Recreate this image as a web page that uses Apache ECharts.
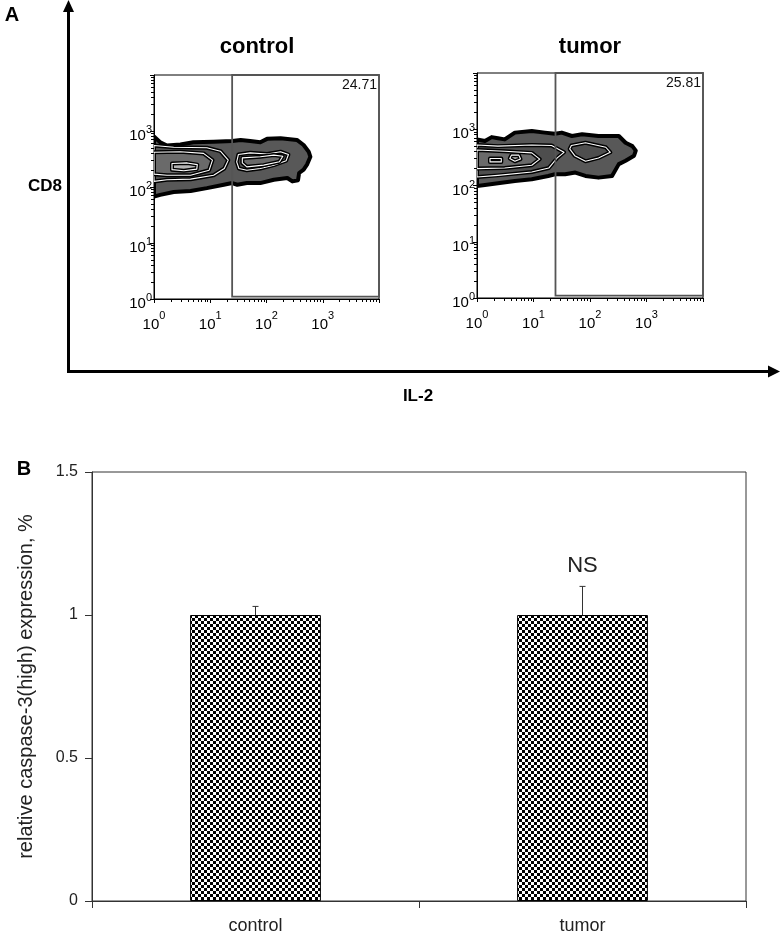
<!DOCTYPE html>
<html><head><meta charset="utf-8">
<script src="https://cdn.jsdelivr.net/npm/echarts@6/dist/echarts.min.js"></script>
<style>html,body{margin:0;padding:0;background:#fff}#c{width:780px;height:935px}</style>
</head><body><div id="c"></div>
<script>
const F = '"Liberation Sans", Arial, Helvetica, sans-serif';

// ---------- Panel A: contour outlines, [log10 IL-2, log10 CD8] ----------
const controlContours = [
  {lv:1, pts:[[0,2.90],[0.11,2.80],[0.23,2.74],[0.47,2.76],[0.70,2.80],[1.06,2.81],[1.39,2.82],[1.54,2.84],[1.71,2.82],[1.89,2.80],[2.01,2.86],[2.25,2.87],[2.54,2.84],[2.66,2.75],[2.75,2.63],[2.78,2.54],[2.72,2.40],[2.66,2.31],[2.58,2.25],[2.56,2.12],[2.46,2.10],[2.37,2.16],[2.13,2.13],[1.89,2.07],[1.65,2.07],[1.48,2.04],[1.39,2.07],[1.24,2.04],[0.94,1.98],[0.65,1.93],[0.35,1.91],[0.11,1.86],[0,1.83]]},
  {lv:2, pts:[[0,2.74],[0.35,2.71],[0.94,2.70],[1.18,2.64],[1.32,2.48],[1.25,2.33],[1.06,2.21],[0.65,2.14],[0.23,2.13],[0,2.10]]},
  {lv:2, pts:[[1.50,2.58],[1.71,2.61],[2.01,2.59],[2.25,2.63],[2.39,2.58],[2.35,2.47],[2.13,2.39],[1.89,2.33],[1.65,2.30],[1.51,2.33],[1.47,2.45]]},
  {lv:3, pts:[[0,2.62],[0.47,2.63],[0.88,2.60],[1.04,2.48],[0.98,2.30],[0.65,2.21],[0.23,2.21],[0,2.23]]},
  {lv:3, pts:[[1.57,2.52],[1.89,2.54],[2.13,2.57],[2.29,2.55],[2.23,2.45],[1.95,2.39],[1.65,2.36],[1.57,2.43]]},
  {lv:4, pts:[[0.32,2.42],[0.59,2.43],[0.77,2.40],[0.76,2.32],[0.53,2.29],[0.32,2.31]]}
];
const tumorContours = [
  {lv:1, pts:[[0,2.82],[0.14,2.79],[0.26,2.86],[0.37,2.84],[0.49,2.82],[0.67,2.94],[0.97,2.97],[1.20,2.94],[1.38,2.92],[1.50,2.94],[1.68,2.88],[1.86,2.91],[2.15,2.88],[2.51,2.88],[2.63,2.76],[2.75,2.70],[2.81,2.62],[2.78,2.53],[2.63,2.44],[2.51,2.38],[2.39,2.17],[2.15,2.14],[1.92,2.17],[1.74,2.23],[1.56,2.20],[1.38,2.20],[1.26,2.17],[0.97,2.11],[0.67,2.08],[0.37,2.04],[0.14,2.01],[0,1.99]]},
  {lv:2, pts:[[0,2.72],[0.37,2.70],[0.97,2.72],[1.32,2.71],[1.54,2.59],[1.42,2.49],[1.27,2.31],[0.97,2.24],[0.37,2.18],[0,2.15]]},
  {lv:2, pts:[[1.67,2.71],[1.92,2.76],[2.28,2.68],[2.36,2.59],[2.15,2.49],[1.92,2.43],[1.73,2.53],[1.64,2.65]]},
  {lv:3, pts:[[0,2.63],[0.49,2.61],[0.97,2.58],[1.11,2.47],[0.97,2.36],[0.49,2.31],[0,2.30]]},
  {lv:4, pts:[[0.61,2.54],[0.74,2.54],[0.77,2.47],[0.67,2.43],[0.58,2.48]]},
  {lv:4, pts:[[0.23,2.48],[0.43,2.48],[0.43,2.42],[0.23,2.42]]}
];
const panelTitles = ['control', 'tumor'];
const gateMinIL2 = [24.5, 24.5];
const gateMinCD8 = [1.1, 1.1];
const gatePercents = ['24.71', '25.81'];
const facsMin = 1, facsMax = 10000;

// ---------- Panel B ----------
const categories = ['control', 'tumor'];
const means = [1.0, 1.0];
const errors = [0.03, 0.10];
const marks = ['', 'NS'];
const yTicksB = {min: 0, max: 1.5, interval: 0.5};

// ---------- styles ----------
const levelFill = {1:'#585858', 2:'#4e4e4e', 3:'#6a6a6a', 4:'#b4b4b4'};

function contourRender(contours) {
  return function (params, api) {
    const c = contours[params.dataIndex];
    const pts = c.pts.map(p => api.coord([Math.pow(10, p[0]), Math.pow(10, p[1])]));
    const ch = [{type:'polygon', shape:{points:pts}, style:{fill:levelFill[c.lv], stroke:'#000', lineWidth:4, lineJoin:'round'}}];
    if (c.lv > 1) ch.push({type:'polygon', shape:{points:pts}, style:{fill:null, stroke:'#fff', lineWidth:1.1, lineJoin:'round'}});
    return {type:'group', children: ch};
  };
}
function gateRender(i) {
  return function (params, api) {
    const a = api.coord([gateMinIL2[i], gateMinCD8[i]]);
    const b = api.coord([facsMax, facsMax]);
    return {type:'group', children:[
      {type:'rect', shape:{x:a[0], y:b[1], width:b[0]-a[0], height:a[1]-b[1]}, style:{fill:null, stroke:'#555', lineWidth:1.8}},
      {type:'text', x:b[0]-2, y:b[1]+3, style:{text:gatePercents[i], fill:'#111', font:'14px ' + F, align:'right', verticalAlign:'top'}}
    ]};
  };
}
function supFmt(v) {
  const e = Math.round(Math.log10(v));
  return e >= 4 ? '' : '{p| }{b|10}{s|' + e + '}';
}
function facsRich(lineH) {
  return {p:{fontSize:1, lineHeight:lineH, width:0},
          b:{fontSize:15, fontFamily:F, color:'#000', lineHeight:16, verticalAlign:'bottom'},
          s:{fontSize:11, fontFamily:F, color:'#000', lineHeight:12, verticalAlign:'top'}};
}
function facsX(gi) {
  return {type:'log', logBase:10, gridIndex:gi, min:facsMin, max:facsMax, splitNumber:4,
    axisLine:{lineStyle:{color:'#000', width:1}},
    axisTick:{show:true, length:4, lineStyle:{color:'#000'}},
    minorTick:{show:true, splitNumber:9, length:3, lineStyle:{color:'#000'}},
    splitLine:{show:false},
    axisLabel:{formatter:supFmt, margin:11, rich:facsRich(22)}};
}
function facsY(gi) {
  return {type:'log', logBase:10, gridIndex:gi, min:facsMin, max:facsMax, splitNumber:4,
    axisLine:{lineStyle:{color:'#000', width:1}},
    axisTick:{show:true, length:4, lineStyle:{color:'#000'}},
    minorTick:{show:true, splitNumber:9, length:3, lineStyle:{color:'#000'}},
    splitLine:{show:false},
    axisLabel:{formatter:supFmt, margin:2, padding:[6,0,0,0], rich:facsRich(19)}};
}

// checkerboard pattern
const pc = document.createElement('canvas'); pc.width = 6; pc.height = 6;
const g = pc.getContext('2d');
g.fillStyle = '#fff'; g.fillRect(0,0,6,6);
g.fillStyle = '#000'; g.fillRect(0,0,3,3); g.fillRect(3,3,3,3);

const chart = echarts.init(document.getElementById('c'), null, {renderer:'canvas', width:780, height:935});
chart.setOption({
  animation:false,
  backgroundColor:'#fff',
  textStyle:{fontFamily:F},
  grid:[
    {left:154, top:75, width:225, height:224, show:true, borderColor:'#000', borderWidth:1, backgroundColor:'transparent'},
    {left:477, top:73, width:226, height:225, show:true, borderColor:'#000', borderWidth:1, backgroundColor:'transparent'},
    {left:92, top:472, width:654, height:429, show:true, borderColor:'#333', borderWidth:1, backgroundColor:'transparent'}
  ],
  xAxis:[facsX(0), facsX(1),
    {type:'category', gridIndex:2, data:categories,
     axisLine:{lineStyle:{color:'#333', width:1}},
     axisTick:{show:true, length:7, alignWithLabel:false, lineStyle:{color:'#333'}},
     axisLabel:{fontSize:18, color:'#222', fontFamily:F, margin:16}}],
  yAxis:[facsY(0), facsY(1),
    {type:'value', gridIndex:2, min:yTicksB.min, max:yTicksB.max, interval:yTicksB.interval,
     name:'relative caspase-3(high) expression, %', nameLocation:'middle', nameGap:56,
     nameTextStyle:{fontSize:20, color:'#222', fontFamily:F},
     axisLine:{show:true, lineStyle:{color:'#333', width:1}},
     axisTick:{show:true, length:7, lineStyle:{color:'#333'}},
     splitLine:{show:false},
     axisLabel:{fontSize:16, color:'#222', fontFamily:F, margin:14}}],
  series:[
    {type:'custom', xAxisIndex:0, yAxisIndex:0, clip:true, renderItem:contourRender(controlContours),
     data:controlContours.map((c,i)=>[Math.pow(10,c.pts[0][0]), Math.pow(10,c.pts[0][1]), i]), encode:{x:0,y:1}, silent:true},
    {type:'custom', xAxisIndex:1, yAxisIndex:1, clip:true, renderItem:contourRender(tumorContours),
     data:tumorContours.map((c,i)=>[Math.pow(10,c.pts[0][0]), Math.pow(10,c.pts[0][1]), i]), encode:{x:0,y:1}, silent:true},
    {type:'custom', xAxisIndex:0, yAxisIndex:0, clip:false, renderItem:gateRender(0), data:[[gateMinIL2[0], gateMinCD8[0]]], encode:{x:0,y:1}, z:5, silent:true},
    {type:'custom', xAxisIndex:1, yAxisIndex:1, clip:false, renderItem:gateRender(1), data:[[gateMinIL2[1], gateMinCD8[1]]], encode:{x:0,y:1}, z:5, silent:true},
    {type:'bar', xAxisIndex:2, yAxisIndex:2, data:means, barWidth:'40%',
     itemStyle:{color:{image:pc, repeat:'repeat'}, borderColor:'#000', borderWidth:1}, silent:true},
    {type:'custom', xAxisIndex:2, yAxisIndex:2, clip:false, z:5, silent:true,
     data:categories.map((c,i)=>[i, means[i], errors[i]]), encode:{x:0,y:1},
     renderItem:function(params, api){
       const i = params.dataIndex;
       const b = api.coord([api.value(0), api.value(1)]);
       const t = api.coord([api.value(0), api.value(1) + api.value(2)]);
       return {type:'group', children:[
         {type:'line', shape:{x1:b[0], y1:b[1], x2:t[0], y2:t[1]}, style:{stroke:'#333', lineWidth:1}},
         {type:'line', shape:{x1:t[0]-3, y1:t[1], x2:t[0]+3, y2:t[1]}, style:{stroke:'#333', lineWidth:1}},
         {type:'text', x:t[0], y:t[1]-20, style:{text:marks[i], fill:'#222', font:'22px ' + F, align:'center', verticalAlign:'middle'}}
       ]};
     }}
  ],
  graphic:[
    {type:'text', x:12, y:15, style:{text:'A', font:'bold 20px ' + F, fill:'#000', align:'center', verticalAlign:'middle'}},
    {type:'text', x:45, y:186, style:{text:'CD8', font:'bold 17px ' + F, fill:'#000', align:'center', verticalAlign:'middle'}},
    {type:'text', x:418, y:396, style:{text:'IL-2', font:'bold 17px ' + F, fill:'#000', align:'center', verticalAlign:'middle'}},
    {type:'text', x:257, y:47, style:{text:panelTitles[0], font:'bold 22px ' + F, fill:'#000', align:'center', verticalAlign:'middle'}},
    {type:'text', x:590, y:47, style:{text:panelTitles[1], font:'bold 22px ' + F, fill:'#000', align:'center', verticalAlign:'middle'}},
    {type:'text', x:24, y:469, style:{text:'B', font:'bold 20px ' + F, fill:'#000', align:'center', verticalAlign:'middle'}},
    {type:'line', shape:{x1:68.5, y1:373, x2:68.5, y2:10}, style:{stroke:'#000', lineWidth:3}},
    {type:'polygon', shape:{points:[[63,12],[74,12],[68.5,0]]}, style:{fill:'#000'}},
    {type:'line', shape:{x1:67, y1:371.5, x2:770, y2:371.5}, style:{stroke:'#000', lineWidth:3}},
    {type:'polygon', shape:{points:[[768,365.5],[768,377.5],[780,371.5]]}, style:{fill:'#000'}}
  ]
});
</script></body></html>
